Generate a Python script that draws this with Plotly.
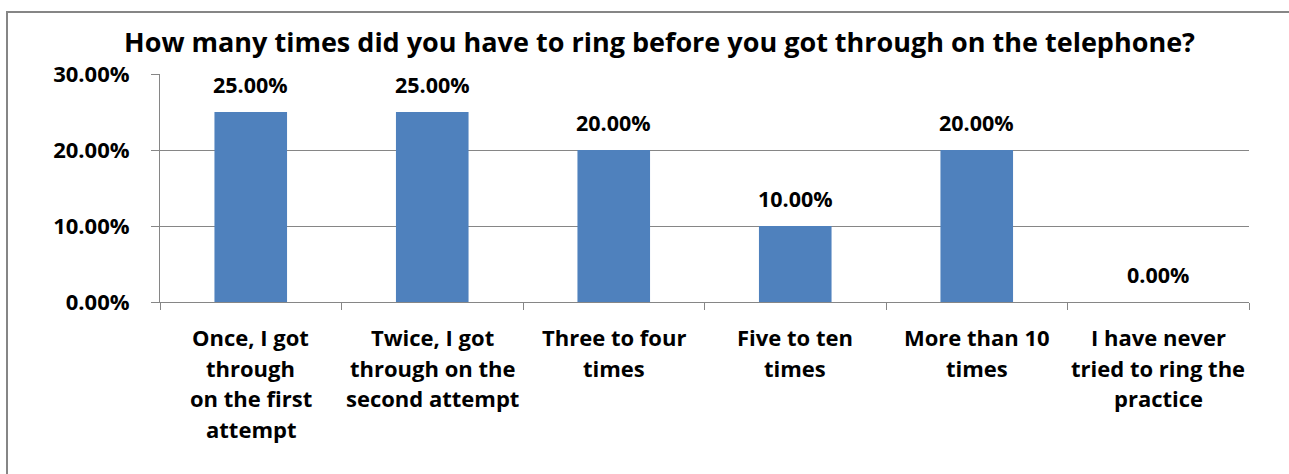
import plotly.graph_objects as go

# Survey responses
categories = [
    "Once, I got<br>through<br>on the first<br>attempt",
    "Twice, I got<br>through on the<br>second attempt",
    "Three to four<br>times",
    "Five to ten<br>times",
    "More than 10<br>times",
    "I have never<br>tried to ring the<br>practice",
]
shares = [25.0, 25.0, 20.0, 10.0, 20.0, 0.0]
y_ticks = [0, 10, 20, 30]
y_tick_labels = ["0.00%", "10.00%", "20.00%", "30.00%"]

TITLE = "How many times did you have to ring before you got through on the telephone?"
FONT = "Open Sans"
BAR_COLOR = "#4F81BD"
GRID = "#868686"

W, H = 1289, 474
L, R, T, B = 160, 40, 74, 172
plot_w, plot_h = W - L - R, H - T - B


def px_x(px):
    return (px - L) / plot_w


def px_y(py):
    return (H - B - py) / plot_h


fig = go.Figure()
fig.add_trace(go.Bar(
    x=categories,
    y=shares,
    marker=dict(color=BAR_COLOR, line=dict(width=0)),
    hoverinfo="skip",
))

annotations = []
# value labels above bars
for cat, v in zip(categories, shares):
    annotations.append(dict(
        x=cat, y=v, xref="x", yref="y",
        text=f"{v:.2f}%", showarrow=False,
        yanchor="middle", yshift=28,
        font=dict(family=FONT, size=21.5, color="black", weight="bold"),
    ))

# category labels, one line at a time for tighter line spacing
LINE_GAP = 30.5
for cat in categories:
    for i, line in enumerate(cat.split("<br>")):
        annotations.append(dict(
            x=cat, y=0, xref="x", yref="y",
            text=line, showarrow=False,
            yanchor="middle", yshift=-(35 + i * LINE_GAP),
            font=dict(family=FONT, size=22, color="black", weight="bold"),
        ))

fig.update_layout(
    width=W, height=H,
    margin=dict(l=L, r=R, t=T, b=B, autoexpand=False),
    paper_bgcolor="white", plot_bgcolor="white",
    showlegend=False,
    bargap=0.6,
    title=dict(
        text=TITLE,
        x=659.5 / W, xanchor="center", xref="container",
        y=(H - 43) / H, yanchor="middle", yref="container",
        font=dict(family=FONT, size=27, color="black", weight="bold"),
    ),
    annotations=annotations,
    shapes=[dict(
        type="rect", xref="paper", yref="paper",
        x0=px_x(7), x1=px_x(1300), y0=px_y(12), y1=px_y(490),
        line=dict(color=GRID, width=2), fillcolor="rgba(0,0,0,0)", layer="below",
    )],
)

fig.update_xaxes(
    type="category",
    showticklabels=False,
    ticks="outside", ticklen=7, tickcolor=GRID, tickwidth=1,
    tickson="boundaries",
    showline=True, linecolor=GRID, linewidth=1,
    showgrid=False, zeroline=False,
    fixedrange=True,
)
fig.update_yaxes(
    range=[0, 30],
    tickvals=y_ticks, ticktext=y_tick_labels,
    ticks="outside", ticklen=8, tickcolor=GRID, tickwidth=1,
    ticklabelstandoff=17,
    tickfont=dict(family=FONT, size=22, color="black", weight="bold"),
    showline=True, linecolor=GRID, linewidth=1,
    showgrid=True, gridcolor=GRID, gridwidth=1,
    zeroline=False,
    fixedrange=True,
)

fig.write_html("out.html", config=dict(displayModeBar=False))
